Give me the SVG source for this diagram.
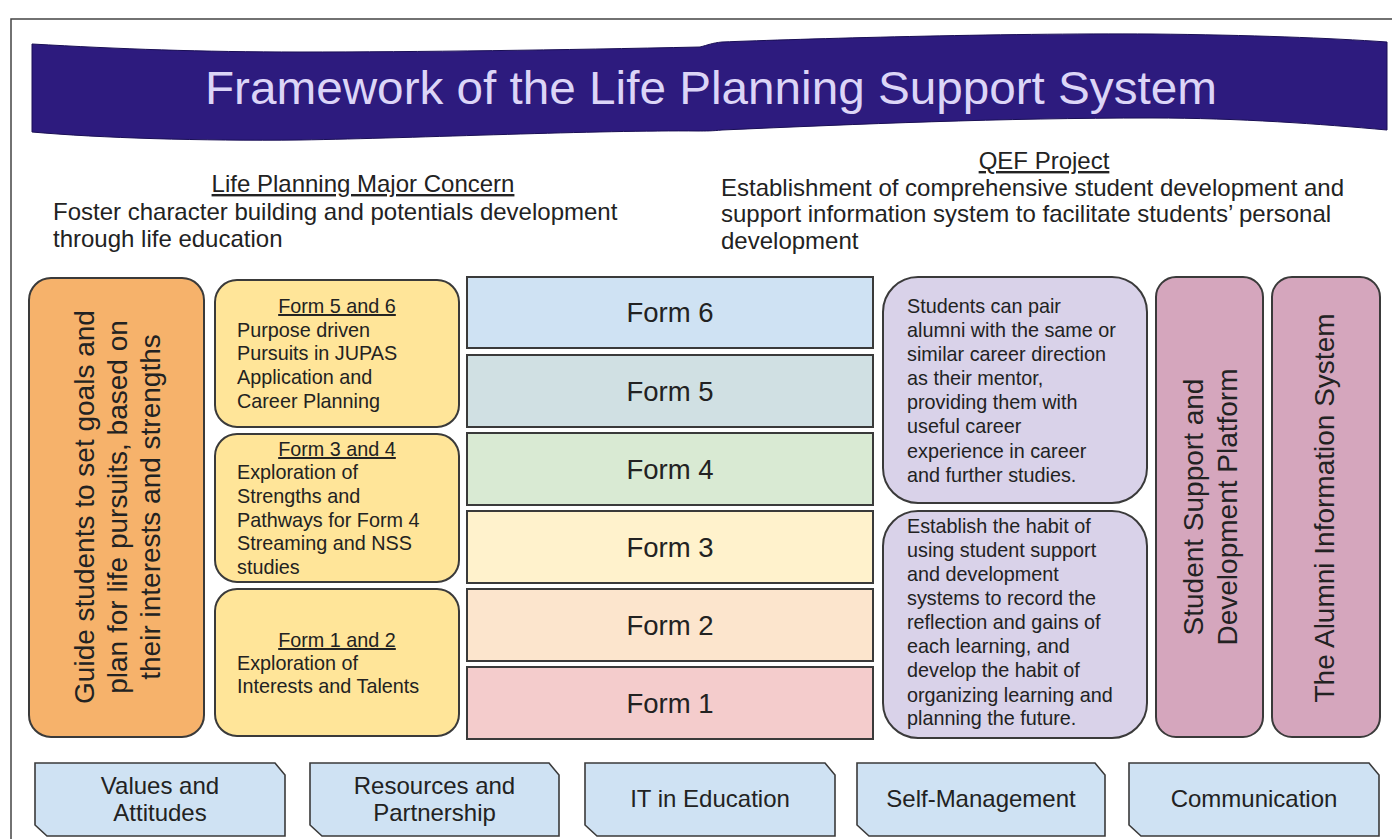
<svg xmlns="http://www.w3.org/2000/svg" width="1392" height="839" viewBox="0 0 1392 839">
  <style>
    text { font-family: "Liberation Sans", Arial, sans-serif; fill: #222; }
    .hdr { font-size: 24px; }
    .sm { font-size: 19.8px; }
    .lg { font-size: 27.5px; }
    .mid { text-anchor: middle; }
    .ul { text-decoration: underline; }
    .box { stroke: #3a3a3a; stroke-width: 2; }
    .orange { fill: #f6b26b; }
    .yellow { fill: #ffe599; }
    .purple { fill: #d9d2e9; }
    .pink { fill: #d5a6bd; }
    .pill { fill: #cfe2f3; stroke: #3a3a3a; stroke-width: 1.6; }
    .title { font-size: 46px; fill: #dcd5f7; }
  </style>

  <!-- page frame -->
  <rect x="11" y="19" width="1500" height="900" fill="none" stroke="#444" stroke-width="1.5"/>

  <!-- waving title banner -->
  <g id="banner">
    <path d="M32,44 C120,49 200,52 300,52 C420,52 560,50 700,47 C708,45 712,43 722,42 C800,39 1000,33 1152,34 C1250,35 1330,38 1387,42 L1387,130 C1320,124 1240,118 1152,118 C1000,118 860,124 722,130 C712,131 706,131 698,131 C600,130 420,138 300,140 C200,141 100,138 32,132 Z" fill="#2d1b7e" stroke="#1a0f55" stroke-width="1"/>
    <text class="title" x="205" y="104" textLength="1012" lengthAdjust="spacingAndGlyphs">Framework of the Life Planning Support System</text>
  </g>

  <!-- header: major concern -->
  <g id="concern">
    <text class="hdr mid ul" x="363" y="192">Life Planning Major Concern</text>
    <text class="hdr" x="53" y="220">Foster character building and potentials development</text>
    <text class="hdr" x="53" y="247">through life education</text>
  </g>

  <!-- header: QEF project -->
  <g id="qef">
    <text class="hdr mid ul" x="1044" y="169">QEF Project</text>
    <text class="hdr" x="721" y="196">Establishment of comprehensive student development and</text>
    <text class="hdr" x="721" y="222">support information system to facilitate students’ personal</text>
    <text class="hdr" x="721" y="249">development</text>
  </g>

  <!-- overall aim -->
  <g id="aim">
    <rect class="box orange" x="29" y="278" width="175" height="459" rx="22"/>
    <g transform="translate(116.5,507) rotate(-90)">
      <text class="lg mid" x="0" y="-22.5" style="font-size:28px">Guide students to set goals and</text>
      <text class="lg mid" x="0" y="10.5" style="font-size:28px">plan for life pursuits, based on</text>
      <text class="lg mid" x="0" y="43.5" style="font-size:28px">their interests and strengths</text>
    </g>
  </g>

  <!-- stage descriptions -->
  <g id="stage-f56">
    <rect class="box yellow" x="215" y="280" width="244" height="147" rx="22"/>
    <text class="sm mid ul" x="337" y="313">Form 5 and 6</text>
    <text class="sm" x="237" y="337">Purpose driven</text>
    <text class="sm" x="237" y="360">Pursuits in JUPAS</text>
    <text class="sm" x="237" y="384">Application and</text>
    <text class="sm" x="237" y="408">Career Planning</text>
  </g>
  <g id="stage-f34">
    <rect class="box yellow" x="215" y="434" width="244" height="148" rx="22"/>
    <text class="sm mid ul" x="337" y="456">Form 3 and 4</text>
    <text class="sm" x="237" y="479">Exploration of</text>
    <text class="sm" x="237" y="503">Strengths and</text>
    <text class="sm" x="237" y="527">Pathways for Form 4</text>
    <text class="sm" x="237" y="550">Streaming and NSS</text>
    <text class="sm" x="237" y="574">studies</text>
  </g>
  <g id="stage-f12">
    <rect class="box yellow" x="215" y="589" width="244" height="147" rx="22"/>
    <text class="sm mid ul" x="337" y="647">Form 1 and 2</text>
    <text class="sm" x="237" y="670">Exploration of</text>
    <text class="sm" x="237" y="693">Interests and Talents</text>
  </g>

  <!-- form levels -->
  <g id="form6"><rect class="box" x="467" y="277" width="406" height="71" fill="#cfe2f3"/><text class="lg mid" x="670" y="322">Form 6</text></g>
  <g id="form5"><rect class="box" x="467" y="355" width="406" height="72" fill="#d0e0e3"/><text class="lg mid" x="670" y="400.5">Form 5</text></g>
  <g id="form4"><rect class="box" x="467" y="433" width="406" height="72" fill="#d9ead3"/><text class="lg mid" x="670" y="478.5">Form 4</text></g>
  <g id="form3"><rect class="box" x="467" y="511" width="406" height="72" fill="#fff2cc"/><text class="lg mid" x="670" y="556.5">Form 3</text></g>
  <g id="form2"><rect class="box" x="467" y="589" width="406" height="72" fill="#fce5cd"/><text class="lg mid" x="670" y="634.5">Form 2</text></g>
  <g id="form1"><rect class="box" x="467" y="667" width="406" height="72" fill="#f4cccc"/><text class="lg mid" x="670" y="712.5">Form 1</text></g>

  <!-- QEF outcomes -->
  <g id="mentoring">
    <rect class="box purple" x="883" y="277" width="264" height="226" rx="35"/>
    <text class="sm" x="907" y="313">Students can pair</text>
    <text class="sm" x="907" y="337">alumni with the same or</text>
    <text class="sm" x="907" y="361">similar career direction</text>
    <text class="sm" x="907" y="385">as their mentor,</text>
    <text class="sm" x="907" y="409">providing them with</text>
    <text class="sm" x="907" y="433">useful career</text>
    <text class="sm" x="907" y="458">experience in career</text>
    <text class="sm" x="907" y="482">and further studies.</text>
  </g>
  <g id="reflection">
    <rect class="box purple" x="883" y="511" width="264" height="227" rx="35"/>
    <text class="sm" x="907" y="533">Establish the habit of</text>
    <text class="sm" x="907" y="557">using student support</text>
    <text class="sm" x="907" y="581">and development</text>
    <text class="sm" x="907" y="605">systems to record the</text>
    <text class="sm" x="907" y="629">reflection and gains of</text>
    <text class="sm" x="907" y="653">each learning, and</text>
    <text class="sm" x="907" y="677">develop the habit of</text>
    <text class="sm" x="907" y="702">organizing learning and</text>
    <text class="sm" x="907" y="725">planning the future.</text>
  </g>

  <!-- information systems -->
  <g id="platform">
    <rect class="box pink" x="1156" y="277" width="107" height="460" rx="20"/>
    <g transform="translate(1209.5,507) rotate(-90)">
      <text class="lg mid" x="0" y="-6.5" style="font-size:28px">Student Support and</text>
      <text class="lg mid" x="0" y="27" style="font-size:28px">Development Platform</text>
    </g>
  </g>
  <g id="alumni">
    <rect class="box pink" x="1272" y="277" width="108" height="460" rx="20"/>
    <g transform="translate(1326,508) rotate(-90)">
      <text class="lg mid" x="0" y="8" style="font-size:28px">The Alumni Information System</text>
    </g>
  </g>

  <!-- supporting domains -->
  <g id="values">
    <path class="pill" d="M35,763 L275,763 L285,775 L285,836 L47,836 L35,825 Z"/>
    <text class="hdr mid" x="160" y="794">Values and</text>
    <text class="hdr mid" x="160" y="821">Attitudes</text>
  </g>
  <g id="resources">
    <path class="pill" d="M310,763 L549,763 L559,775 L559,836 L322,836 L310,825 Z"/>
    <text class="hdr mid" x="434.5" y="794">Resources and</text>
    <text class="hdr mid" x="434.5" y="821">Partnership</text>
  </g>
  <g id="it">
    <path class="pill" d="M585,763 L825,763 L835,775 L835,836 L597,836 L585,825 Z"/>
    <text class="hdr mid" x="710" y="807">IT in Education</text>
  </g>
  <g id="selfmgmt">
    <path class="pill" d="M857,763 L1095,763 L1105,775 L1105,836 L869,836 L857,825 Z"/>
    <text class="hdr mid" x="981" y="807">Self-Management</text>
  </g>
  <g id="communication">
    <path class="pill" d="M1129,763 L1369,763 L1379,775 L1379,836 L1141,836 L1129,825 Z"/>
    <text class="hdr mid" x="1254" y="807">Communication</text>
  </g>

  <!-- no connectors in this framework -->
  <g id="connectors"/>
</svg>
